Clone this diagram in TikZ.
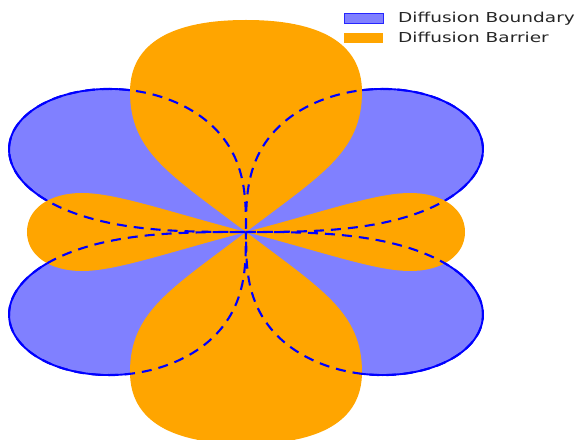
\documentclass[tikz,border=0pt]{standalone}
\usepackage{fontspec}
\setmainfont{DejaVu Sans}
\usepackage{graphicx}
\usetikzlibrary{positioning}
\definecolor{edgeblue}{HTML}{0000FF}
\definecolor{boundfill}{HTML}{8080FF}
\definecolor{barrier}{HTML}{FFA500}
\definecolor{labelgray}{HTML}{262626}
\tikzset{
  boundary/.style={fill=boundfill,draw=edgeblue,line width=1.9pt},
  barrierfill/.style={fill=barrier,draw=none},
  boundline/.style={draw=edgeblue,line width=2.1pt,dash pattern=on 10pt off 7pt},
  keybox/.style={minimum width=39pt,minimum height=10pt,inner sep=0pt,anchor=west},
  keytext/.style={inner sep=0pt,anchor=base west,text=labelgray,
                  font=\fontsize{13.7}{16}\selectfont}
}
\newcommand{\wide}[1]{\scalebox{1.35}[1]{#1}}

\begin{document}
\begin{tikzpicture}[x=1pt,y=1pt]
\useasboundingbox (-246,-207) rectangle (332,232);
\clip (-246,-207) rectangle (332,232);
% diffusion boundary, four petals
\path[boundary] plot[domain=0:360,samples=721,variable=\t]
  ({294*sqrt(abs(sin(2*\t)))*cos(\t)},{177.5*sqrt(abs(sin(2*\t)))*sin(\t)}) -- cycle;
% diffusion barrier lobes
\foreach \s in {1,-1}{
  \fill[barrierfill,yscale=\s] (0,0) .. controls (-75,57) and (-116,80) .. (-116,140)
    .. controls (-116,189) and (-74,212) .. (0,212)
    .. controls (74,212) and (116,189) .. (116,140)
    .. controls (116,80) and (75,57) .. (0,0) -- cycle;
  \fill[barrierfill,xscale=\s] (0,0) .. controls (-80,21) and (-130,39) .. (-164,39)
    .. controls (-197,39) and (-219,23) .. (-219,0)
    .. controls (-219,-23) and (-197,-39) .. (-164,-39)
    .. controls (-130,-39) and (-80,-21) .. (0,0) -- cycle;
}
% boundary again, dashed on top
\draw[boundline] plot[domain=0:360,samples=721,variable=\t]
  ({294*sqrt(abs(sin(2*\t)))*cos(\t)},{177.5*sqrt(abs(sin(2*\t)))*sin(\t)});
% legend
\node[keybox,fill=boundfill,draw=edgeblue!70!boundfill,line width=0.6pt] (keyb) at (98,214) {};
\node[keybox,fill=barrier] (keyr) at (98,194) {};
\node[keytext] (textb) at (152,209.3) {\wide{Diffusion Boundary}};
\node[keytext] (textr) at (152,189.3) {\wide{Diffusion Barrier}};
\end{tikzpicture}
\end{document}
